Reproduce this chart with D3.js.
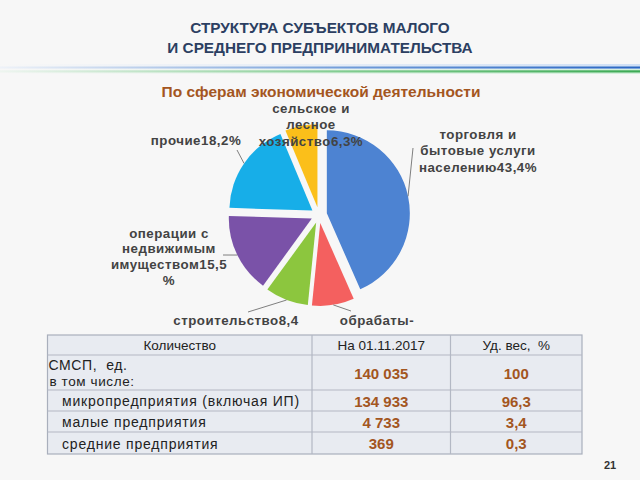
<!DOCTYPE html>
<html><head><meta charset="utf-8">
<script src="https://cdn.jsdelivr.net/npm/d3@7"></script>
<style>
html,body{margin:0;padding:0;background:#f7f7f7;}
svg{display:block;font-family:"Liberation Sans",Arial,sans-serif;}
svg text{white-space:pre;}
</style></head>
<body>
<svg id="c" width="640" height="480"></svg>
<script>
// ---------- data ----------
const titleLines = ["СТРУКТУРА СУБЪЕКТОВ МАЛОГО", "И СРЕДНЕГО ПРЕДПРИНИМАТЕЛЬСТВА"];
const subtitle = "По сферам экономической деятельности";
const sectors = ["торговля и бытовые услуги населению", "обрабатывающие производства", "строительство", "операции с недвижимым имуществом", "прочие", "сельское и лесное хозяйство"];
const shares = [43.4, 8.2, 8.4, 15.5, 18.2, 6.3];
// visible label lines (the rest of the bottom labels is hidden behind the table in the original)
const sectorLabelLines = [
  ["торговля и", "бытовые услуги", "населению43,4%"],
  ["обрабаты-"],
  ["строительство8,4"],
  ["операции с", "недвижимым", "имуществом15,5", "%"],
  ["прочие18,2%"],
  ["сельское и", "лесное", "хозяйство6,3%"]
];
const tableHeader = ["Количество", "На 01.11.2017", "Уд. вес,  %"];
const rowLabels = [["СМСП,  ед.", "в том числе:"], ["микропредприятия (включая ИП)"], ["малые предприятия"], ["средние предприятия"]];
const counts = ["140 035", "134 933", "4 733", "369"];
const weights = ["100", "96,3", "3,4", "0,3"];
const pageNumber = "21";

// ---------- layout / style ----------
const colors = ["#4d83d2", "#f4605f", "#8cc63e", "#7a52a8", "#17aee8", "#fbbf1a"];
const C = {x: 319, y: 215}, R = 83, OFF = 8;
const labelLayout = [
  {x: 478, y: 134, dy: 16.5, lead: [413, 148]},
  {x: 377, y: 320, dy: 16.5, lead: [351, 311]},
  {x: 236, y: 320, dy: 16.5, lead: [248, 312]},
  {x: 169, y: 233, dy: 15.7, lead: [223, 255]},
  {x: 196, y: 140, dy: 16, lead: [237, 150]},
  {x: 311, y: 108, dy: 16.5, lead: null}
];

const svg = d3.select("#c");
svg.append("rect").attr("width", 640).attr("height", 480).attr("fill", "#f7f7f7");

// title
svg.append("g").selectAll("text").data(titleLines).join("text")
  .attr("x", 320).attr("y", (d, i) => 27 + i * 20)
  .attr("text-anchor", "middle").attr("dominant-baseline", "central")
  .attr("font-size", 15.3).attr("font-weight", "bold").attr("fill", "#2c3f62")
  .text(d => d);

// decorative lines
const defs = svg.append("defs");
function grad(id, c0, c1, mid) {
  const g = defs.append("linearGradient").attr("id", id).attr("x1", 0).attr("x2", 1).attr("y1", 0).attr("y2", 0);
  g.append("stop").attr("offset", 0).attr("stop-color", c0);
  g.append("stop").attr("offset", 0.55).attr("stop-color", mid);
  g.append("stop").attr("offset", 1).attr("stop-color", c1);
}
grad("gHaloB", "#f7f7f7", "#cfe0f6", "#e4ecf7");
grad("gHaloG", "#f7f7f7", "#d3f0db", "#e6f3ea");
grad("gBlue", "#eef2f8", "#2a67c2", "#6f9bd8");
grad("gGreen", "#eef5f0", "#3daa55", "#7fcb8e");
svg.append("rect").attr("x", 0).attr("y", 64).attr("width", 640).attr("height", 5).attr("fill", "url(#gHaloB)");
svg.append("rect").attr("x", 0).attr("y", 69).attr("width", 640).attr("height", 5).attr("fill", "url(#gHaloG)");
svg.append("rect").attr("x", 0).attr("y", 66.5).attr("width", 640).attr("height", 2).attr("fill", "url(#gBlue)");
svg.append("rect").attr("x", 0).attr("y", 70.3).attr("width", 640).attr("height", 2.2).attr("fill", "url(#gGreen)");

// subtitle
svg.append("text").attr("x", 321).attr("y", 91).attr("text-anchor", "middle").attr("dominant-baseline", "central")
  .attr("font-size", 15.5).attr("font-weight", "bold").attr("fill", "#a4561f").text(subtitle);

// pie
const pie = d3.pie().sort(null).value(d => d)(shares);
const arc = d3.arc().innerRadius(0).outerRadius(R);
const gPie = svg.append("g").attr("transform", `translate(${C.x},${C.y})`);
function dir(a) { return [Math.sin(a), -Math.cos(a)]; }
gPie.selectAll("path").data(pie).join("path")
  .attr("d", arc)
  .attr("fill", (d, i) => colors[i])
  .attr("transform", d => { const m = (d.startAngle + d.endAngle) / 2, v = dir(m); return `translate(${v[0] * OFF},${v[1] * OFF})`; });

// leader lines
const gLab = svg.append("g");
pie.forEach((d, i) => {
  const L = labelLayout[i];
  if (!L.lead) return;
  const m = (d.startAngle + d.endAngle) / 2, v = dir(m);
  const sx = C.x + v[0] * (OFF + R), sy = C.y + v[1] * (OFF + R);
  gLab.append("line").attr("x1", sx).attr("y1", sy).attr("x2", L.lead[0]).attr("y2", L.lead[1])
    .attr("stroke", "#7f7f7f").attr("stroke-width", 1);
});
// labels
sectorLabelLines.forEach((lines, i) => {
  const L = labelLayout[i];
  gLab.append("g").selectAll("text").data(lines).join("text")
    .attr("x", L.x).attr("y", (d, j) => L.y + j * L.dy)
    .attr("text-anchor", "middle").attr("dominant-baseline", "central")
    .attr("font-size", 13.3).attr("font-weight", "bold").attr("letter-spacing", 0.5)
    .attr("fill", "#434343").text(d => d);
});

// table
const colX = [47.5, 312, 450.5, 582];
const rowY = [335, 355, 390, 411, 432, 454];
const gT = svg.append("g");
gT.append("rect").attr("x", colX[0]).attr("y", rowY[0]).attr("width", colX[3] - colX[0]).attr("height", rowY[5] - rowY[0])
  .attr("fill", "#e8ebf1").attr("stroke", "#a9afbc").attr("stroke-width", 1.2);
rowY.slice(1, 5).forEach(y => gT.append("line").attr("x1", colX[0]).attr("x2", colX[3]).attr("y1", y).attr("y2", y)
  .attr("stroke", "#b3b8c4").attr("stroke-width", 1.2));
colX.slice(1, 3).forEach(x => gT.append("line").attr("x1", x).attr("x2", x).attr("y1", rowY[0]).attr("y2", rowY[5])
  .attr("stroke", "#b3b8c4").attr("stroke-width", 1.2));
gT.selectAll("text.h").data(tableHeader).join("text").attr("class", "h")
  .attr("x", (d, i) => (colX[i] + colX[i + 1]) / 2).attr("y", (rowY[0] + rowY[1]) / 2 + 0.5)
  .attr("text-anchor", "middle").attr("dominant-baseline", "central")
  .attr("font-size", 13.5).attr("fill", "#222").text(d => d);
rowLabels.forEach((lines, r) => {
  const top = rowY[r + 1], bot = rowY[r + 2];
  if (lines.length === 2) {
    gT.append("text").attr("x", 48.5).attr("y", top + 10).attr("dominant-baseline", "central")
      .attr("font-size", 14).attr("letter-spacing", 0.6).attr("fill", "#222").text(lines[0]);
    gT.append("text").attr("x", 49.5).attr("y", top + 26).attr("dominant-baseline", "central")
      .attr("font-size", 13.5).attr("letter-spacing", 0.6).attr("fill", "#222").text(lines[1]);
  } else {
    gT.append("text").attr("x", 62).attr("y", (top + bot) / 2 + 0.5).attr("dominant-baseline", "central")
      .attr("font-size", 14).attr("letter-spacing", 0.8).attr("fill", "#222").text(lines[0]);
  }
});
counts.forEach((v, r) => {
  const cy = (rowY[r + 1] + rowY[r + 2]) / 2 + 0.5;
  gT.append("text").attr("x", (colX[1] + colX[2]) / 2).attr("y", cy).attr("text-anchor", "middle").attr("dominant-baseline", "central")
    .attr("font-size", 15).attr("font-weight", "bold").attr("fill", "#a3561f").text(v);
  gT.append("text").attr("x", (colX[2] + colX[3]) / 2).attr("y", cy).attr("text-anchor", "middle").attr("dominant-baseline", "central")
    .attr("font-size", 15).attr("font-weight", "bold").attr("fill", "#a3561f").text(weights[r]);
});

svg.append("text").attr("x", 610).attr("y", 465).attr("text-anchor", "middle").attr("dominant-baseline", "central")
  .attr("font-size", 11).attr("font-weight", "bold").attr("fill", "#333").text(pageNumber);
</script>
</body></html>
